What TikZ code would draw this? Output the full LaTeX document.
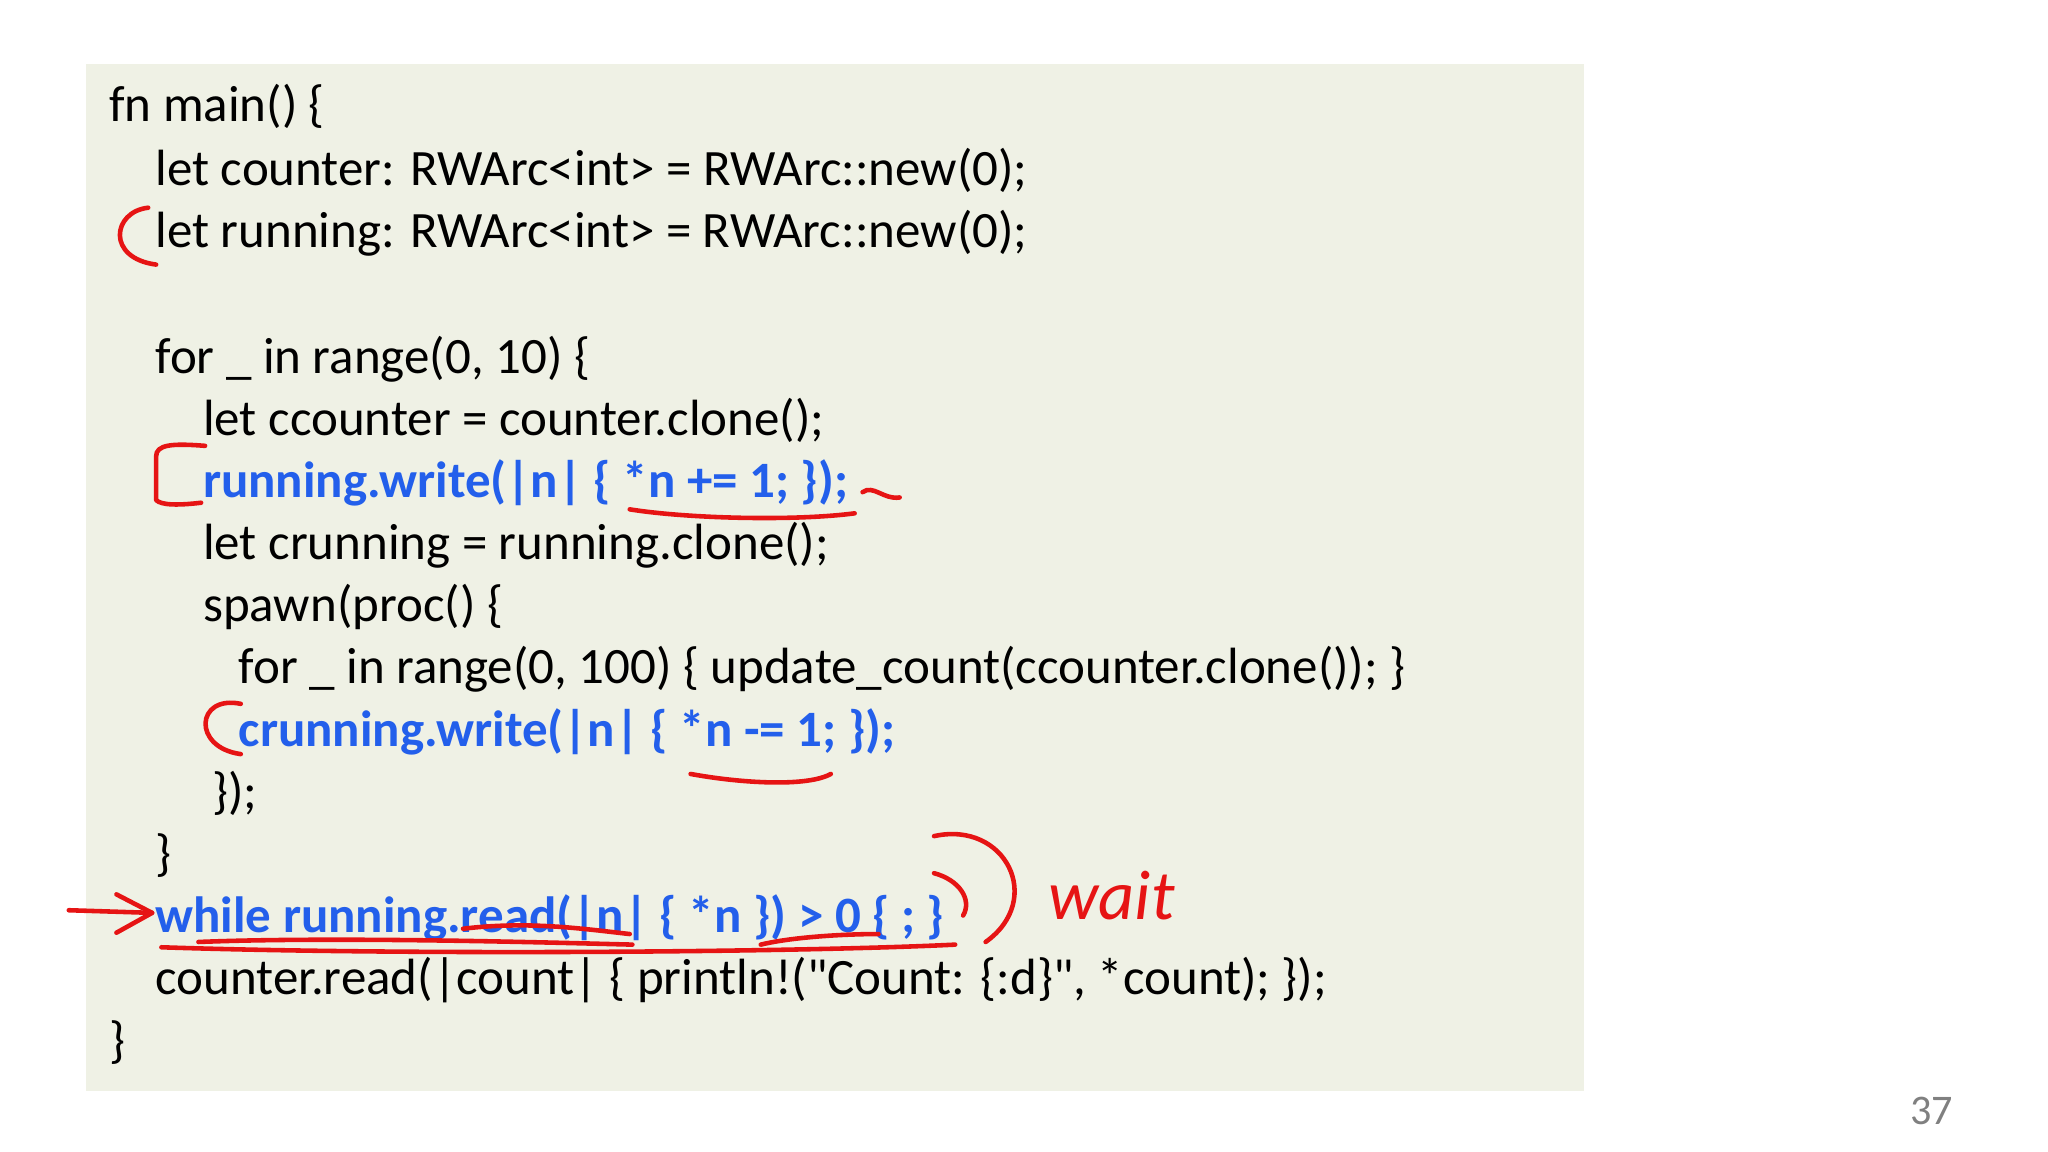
\documentclass[tikz,border=0pt]{standalone}
\usepackage{fontspec}
\setmainfont{Carlito}[Ligatures=TeXOff]
\begin{document}
\begin{tikzpicture}[x=0.01323cm,y=-0.01323cm,
 code/.style={anchor=base west,inner sep=0pt,font=\fontsize{14.5}{17}\selectfont},
 hl/.style={code,text={rgb,255:red,35;green,95;blue,235},font=\fontsize{14.5}{17}\selectfont\bfseries},
 ink/.style={draw={rgb,255:red,230;green,20;blue,20},line width=1.3pt,line cap=round,line join=round}]
\useasboundingbox (0,0) rectangle (1548,870.7);
\fill[fill={rgb,255:red,239;green,241;blue,229}] (65,48) rectangle (1197,825);
\node[code] (l1) at (82,92) {fn main() \{};
\node[code] (l2) at (117,140) {let counter: RWArc<int> = RWArc::new(0);};
\node[code] (l3) at (117,187) {let running: RWArc<int> = RWArc::new(0);};
\node[code] (l4) at (117,282) {for \_ in range(0, 10) \{};
\node[code] (l5) at (153,329) {let ccounter = counter.clone();};
\node[hl] (l6) at (153,376) {running.write(|n| \{ *n += 1; \});};
\node[code] (l7) at (153,423) {let crunning = running.clone();};
\node[code] (l8) at (153,470) {spawn(proc() \{};
\node[code] (l9) at (180,517) {for \_ in range(0, 100) \{ update\_count(ccounter.clone()); \}};
\node[hl] (l10) at (180,564) {crunning.write(|n| \{ *n -= 1; \});};
\node[code] (l11) at (160,611) {\});};
\node[code] (l12) at (117,658) {\}};
\node[hl] (l13) at (117,705) {while running.read(|n| \{ *n \}) > 0 \{ ; \}};
\node[code] (l14) at (117,752) {counter.read(|count| \{ println!("Count: \{:d\}", *count); \});};
\node[code] (l15) at (82,799) {\}};
\node[anchor=base,inner sep=0pt,font=\fontsize{12}{14}\selectfont,text=gray] (pg) at (1460,850) {37};
\node[anchor=base west,inner sep=0pt,font=\fontsize{20}{22}\selectfont\itshape,text={rgb,255:red,230;green,20;blue,20}] (w) at (792,695) {wait};
% annotations
\draw[ink] (112,157) .. controls (85,160) and (80,195) .. (118,200);
\draw[ink] (155,337) .. controls (130,335) and (118,336) .. (118,345) -- (118,378) .. controls (122,382) and (135,382) .. (152,380);
\draw[ink] (476,385) .. controls (520,392) and (600,394) .. (646,388);
\draw[ink] (652,372) .. controls (660,366) and (668,378) .. (680,376);
\draw[ink] (182,532) .. controls (148,525) and (145,565) .. (182,570);
\draw[ink] (522,585) .. controls (560,592) and (610,595) .. (628,585);
\draw[ink] (52,688) -- (115,690);
\draw[ink] (88,676) -- (115,690) -- (88,705);
\draw[ink] (150,712) .. controls (250,708) and (400,712) .. (478,714);
\draw[ink] (350,702) .. controls (400,696) and (440,702) .. (476,706);
\draw[ink] (575,714) .. controls (600,708) and (640,706) .. (664,706);
\draw[ink] (122,716) .. controls (300,722) and (600,720) .. (722,714);
\draw[ink] (706,632) .. controls (760,620) and (790,680) .. (745,712);
\draw[ink] (706,660) .. controls (725,665) and (735,680) .. (728,692);
\end{tikzpicture}
\end{document}
